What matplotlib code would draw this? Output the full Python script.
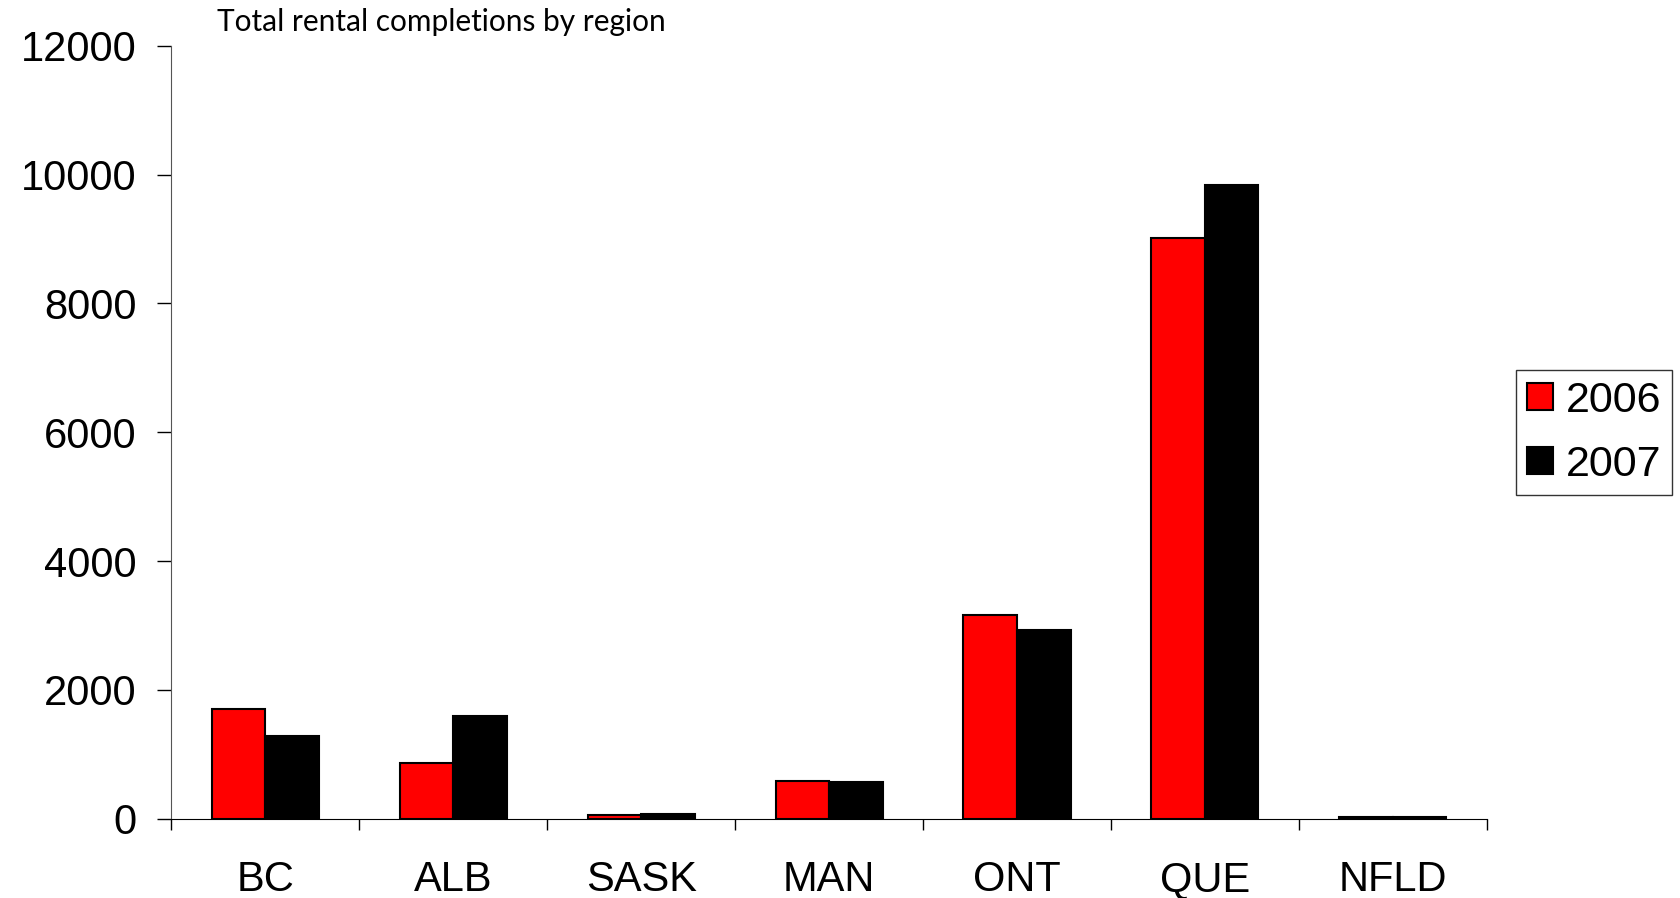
import numpy as np
import matplotlib
matplotlib.use("Agg")
import matplotlib.pyplot as plt
from matplotlib.ticker import FixedLocator

regions = ["BC", "ALB", "SASK", "MAN", "ONT", "QUE", "NFLD"]
y2006 = [1695, 860, 60, 585, 3165, 9020, 30]
y2007 = [1280, 1595, 70, 565, 2930, 9840, 30]
yticks = [0, 2000, 4000, 6000, 8000, 10000, 12000]

plt.rcParams['font.family'] = ['Liberation Sans', 'DejaVu Sans']

fig = plt.figure(figsize=(16.8, 8.98), dpi=100)
ax = fig.add_axes([0.102, 0.0884, 0.783, 0.8606])

x = np.arange(len(regions))
w = 0.285
ax.bar(x - w/2, y2006, w, color='#ff0000', edgecolor='black', linewidth=1.5, label='2006')
ax.bar(x + w/2, y2007, w, color='black', edgecolor='black', linewidth=1.5, label='2007')

ax.set_xlim(-0.5, len(regions) - 0.5)
ax.set_ylim(0, 12000)
ax.set_yticks(yticks)
ax.set_xticks(x)
ax.set_xticklabels(regions)
ax.xaxis.set_minor_locator(FixedLocator(np.arange(len(regions) + 1) - 0.5))
ax.tick_params(axis='x', which='major', length=0, pad=30, labelsize=30)
ax.tick_params(axis='x', which='minor', length=8, width=1, direction='out')
ax.tick_params(axis='y', length=10, width=1, direction='out', pad=15, labelsize=30)

ax.spines['top'].set_visible(False)
ax.spines['right'].set_visible(False)
ax.spines['left'].set_color('#555555')

fig.text(0.129, 0.966, "Total rental completions by region", fontsize=21.5,
         family=['Lato', 'DejaVu Sans'], va='baseline')

leg = fig.legend(loc='center', bbox_to_anchor=(0.949, 0.518), fontsize=31,
                 frameon=True, fancybox=False, edgecolor='black',
                 handlelength=0.6, handleheight=0.6, handletextpad=0.3,
                 borderpad=0.25, labelspacing=0.55, borderaxespad=0)
leg.get_frame().set_linewidth(1)

fig.savefig('out.png', dpi=100)
